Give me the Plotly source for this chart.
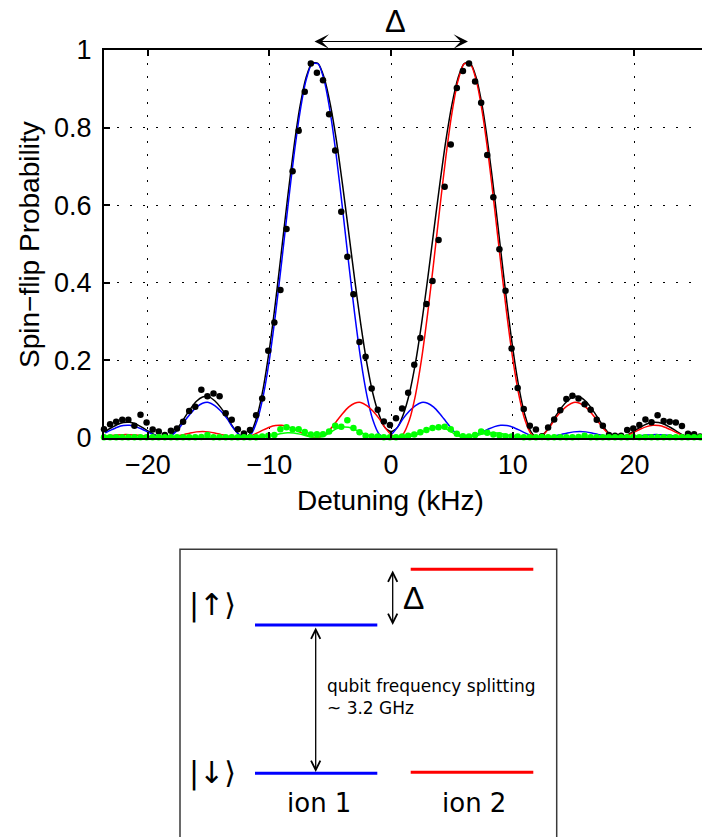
import plotly.graph_objects as go

W, H = 702, 837

# ---------------- data ----------------
dot_x = [-23.6, -23.1, -22.6, -22.1, -21.6, -21.1, -20.6, -20.1, -19.6, -19.1,
         -18.6, -18.1, -17.6, -17.1, -16.6, -16.1, -15.6, -15.1, -14.6, -14.1,
         -13.6, -13.1, -12.6, -12.1, -11.6, -11.1, -10.6, -10.1, -9.6, -9.1,
         -8.6, -8.1, -7.6, -7.1, -6.6, -6.1, -5.6, -5.1, -4.6, -4.1,
         -3.6, -3.1, -2.6, -2.1, -1.6, -1.1, -0.6, -0.1, 0.4, 0.9,
         1.4, 1.9, 2.4, 2.9, 3.4, 3.9, 4.4, 4.9, 5.4, 5.9,
         6.4, 6.9, 7.4, 7.9, 8.4, 8.9, 9.4, 9.9, 10.4, 10.9,
         11.4, 11.9, 12.4, 12.9, 13.4, 13.9, 14.4, 14.9, 15.4, 15.9,
         16.4, 16.9, 17.4, 17.9, 18.4, 18.9, 19.4, 19.9, 20.4, 20.9,
         21.4, 21.9, 22.4, 22.9, 23.4, 23.9, 24.4, 24.9, 25.4]

dot_total = [0.022, 0.035, 0.041, 0.046, 0.046, 0.031, 0.059, 0.039, 0.021, 0.016,
             0.007, 0.018, 0.024, 0.041, 0.069, 0.080, 0.124, 0.107, 0.114, 0.107,
             0.063, 0.046, 0.022, 0.011, 0.020, 0.058, 0.101, 0.224, 0.297, 0.381,
             0.538, 0.687, 0.792, 0.892, 0.965, 0.941, 0.922, 0.834, 0.741, 0.583,
             0.467, 0.370, 0.247, 0.209, 0.127, 0.072, 0.042, 0.033, 0.050, 0.075,
             0.116, 0.188, 0.257, 0.345, 0.404, 0.510, 0.647, 0.756, 0.902, 0.946,
             0.965, 0.919, 0.864, 0.729, 0.620, 0.486, 0.379, 0.230, 0.128, 0.074,
             0.031, 0.021, 0.004, 0.026, 0.047, 0.071, 0.100, 0.108, 0.101, 0.086,
             0.072, 0.046, 0.031, 0.007, 0.005, 0.005, 0.020, 0.024, 0.033, 0.047,
             0.040, 0.058, 0.043, 0.041, 0.039, 0.030, 0.010, 0.009, 0.003]

dot_both = [0.001, 0.001, 0.001, 0.001, 0.001, 0.001, 0.001, 0.001, 0.001, 0.001,
            0.001, 0.001, 0.001, 0.001, 0.001, 0.001, 0.002, 0.007, 0.001, 0.001,
            0.001, 0.001, 0.001, 0.001, 0.001, 0.001, 0.003, 0.005, 0.007, 0.022,
            0.027, 0.022, 0.022, 0.015, 0.008, 0.009, 0.009, 0.016, 0.031, 0.028,
            0.045, 0.025, 0.014, 0.005, 0.003, 0.003, 0.001, 0.001, 0.001, 0.003,
            0.005, 0.008, 0.014, 0.020, 0.025, 0.027, 0.028, 0.022, 0.010, 0.004,
            0.003, 0.007, 0.016, 0.013, 0.008, 0.006, 0.004, 0.003, 0.003, 0.001,
            0.001, 0.001, 0.002, 0.001, 0.001, 0.001, 0.001, 0.001, 0.002, 0.005,
            0.001, 0.001, 0.001, 0.001, 0.001, 0.001, 0.001, 0.002, 0.001, 0.001,
            0.001, 0.001, 0.001, 0.001, 0.001, 0.001, 0.001, 0.001, 0.001]

fit_x = [-23.5, -23.0, -22.5, -22.0, -21.5, -21.0, -20.5, -20.0, -19.5, -19.0,
         -18.5, -18.0, -17.5, -17.0, -16.5, -16.0, -15.5, -15.0, -14.5, -14.0,
         -13.5, -13.0, -12.5, -12.0, -11.5, -11.0, -10.5, -10.0, -9.5, -9.0,
         -8.5, -8.0, -7.5, -7.0, -6.5, -6.0, -5.5, -5.0, -4.5, -4.0,
         -3.5, -3.0, -2.5, -2.0, -1.5, -1.0, -0.5, 0.0, 0.5, 1.0,
         1.5, 2.0, 2.5, 3.0, 3.5, 4.0, 4.5, 5.0, 5.5, 6.0,
         6.5, 7.0, 7.5, 8.0, 8.5, 9.0, 9.5, 10.0, 10.5, 11.0,
         11.5, 12.0, 12.5, 13.0, 13.5, 14.0, 14.5, 15.0, 15.5, 16.0,
         16.5, 17.0, 17.5, 18.0, 18.5, 19.0, 19.5, 20.0, 20.5, 21.0,
         21.5, 22.0, 22.5, 23.0, 23.5, 24.0, 24.5, 25.0, 25.5]

fit_ion1 = [0.0123, 0.0201, 0.0270, 0.0312, 0.0318, 0.0286, 0.0223, 0.0146, 0.0072, 0.0019,
            0.0005, 0.007, 0.022, 0.042, 0.062, 0.079, 0.089, 0.091, 0.083, 0.069,
            0.050, 0.026, 0.008, 0.0001, 0.0098, 0.0454, 0.110, 0.2025, 0.320, 0.453,
            0.592, 0.725, 0.838, 0.921, 0.9645, 0.9645, 0.921, 0.838, 0.725, 0.592,
            0.453, 0.320, 0.2025, 0.110, 0.0454, 0.0098, 0.0001, 0.008, 0.026, 0.050,
            0.069, 0.083, 0.091, 0.089, 0.079, 0.062, 0.042, 0.022, 0.007, 0.0005,
            0.0019, 0.0072, 0.0146, 0.0223, 0.0286, 0.0318, 0.0312, 0.0270, 0.0201, 0.0123,
            0.0054, 0.0009, 0.0003, 0.0016, 0.0047, 0.0086, 0.0123, 0.0150, 0.0160, 0.0150,
            0.0123, 0.0086, 0.0047, 0.0016, 0.0001, 0.0002, 0.0014, 0.0031, 0.0051, 0.0068,
            0.0078, 0.0079, 0.0071, 0.0055, 0.0035, 0.0017, 0.0004, 0.0, 0.0005]

fit_ion2 = [0.0035, 0.0055, 0.0071, 0.0079, 0.0078, 0.0068, 0.0051, 0.0031, 0.0014, 0.0002,
            0.0001, 0.0016, 0.0047, 0.0086, 0.0123, 0.0150, 0.0160, 0.0150, 0.0123, 0.0086,
            0.0047, 0.0016, 0.0003, 0.0009, 0.0054, 0.0123, 0.0201, 0.0270, 0.0312, 0.0318,
            0.0286, 0.0223, 0.0146, 0.0072, 0.0019, 0.0005, 0.007, 0.022, 0.042, 0.062,
            0.079, 0.089, 0.091, 0.083, 0.069, 0.050, 0.026, 0.008, 0.0001, 0.0098,
            0.0454, 0.110, 0.2025, 0.320, 0.453, 0.592, 0.725, 0.838, 0.921, 0.9645,
            0.9645, 0.921, 0.838, 0.725, 0.592, 0.453, 0.320, 0.2025, 0.110, 0.0454,
            0.0098, 0.0001, 0.008, 0.026, 0.050, 0.069, 0.083, 0.091, 0.089, 0.079,
            0.062, 0.042, 0.022, 0.007, 0.0005, 0.0019, 0.0072, 0.0146, 0.0223, 0.0286,
            0.0318, 0.0312, 0.0270, 0.0201, 0.0123, 0.0054, 0.0009, 0.0003, 0.0016]

fit_total = [0.0158, 0.0256, 0.0341, 0.0391, 0.0396, 0.0354, 0.0274, 0.0177, 0.0086, 0.0021,
             0.0006, 0.0086, 0.0267, 0.0506, 0.0743, 0.094, 0.105, 0.106, 0.0953, 0.0776,
             0.0547, 0.0276, 0.0083, 0.001, 0.0152, 0.0577, 0.130, 0.2295, 0.351, 0.485,
             0.621, 0.747, 0.853, 0.928, 0.966, 0.965, 0.928, 0.860, 0.767, 0.654,
             0.532, 0.409, 0.2935, 0.193, 0.114, 0.060, 0.026, 0.016, 0.026, 0.060,
             0.114, 0.193, 0.2935, 0.409, 0.532, 0.654, 0.767, 0.860, 0.928, 0.965,
             0.966, 0.928, 0.853, 0.747, 0.621, 0.485, 0.351, 0.2295, 0.130, 0.0577,
             0.0152, 0.001, 0.0083, 0.0276, 0.0547, 0.0776, 0.0953, 0.106, 0.105, 0.094,
             0.0743, 0.0506, 0.0267, 0.0086, 0.0006, 0.0021, 0.0086, 0.0177, 0.0274, 0.0354,
             0.0396, 0.0391, 0.0341, 0.0256, 0.0158, 0.0071, 0.0013, 0.0003, 0.0021]

fit_both = [0.0, 0.0, 0.0, 0.0, 0.0, 0.0, 0.0, 0.0, 0.0, 0.0,
            0.0, 0.0, 0.0001, 0.0003, 0.0006, 0.0009, 0.0011, 0.0010, 0.0008, 0.0004,
            0.0002, 0.0, 0.0, 0.0, 0.0, 0.0004, 0.0017, 0.0041, 0.0075, 0.0108,
            0.0127, 0.0121, 0.0092, 0.0050, 0.0014, 0.0004, 0.0048, 0.0138, 0.0228, 0.0275,
            0.0268, 0.0214, 0.0138, 0.0069, 0.0024, 0.0004, 0.0, 0.0, 0.0, 0.0004,
            0.0024, 0.0069, 0.0138, 0.0214, 0.0268, 0.0275, 0.0228, 0.0138, 0.0048, 0.0004,
            0.0014, 0.0050, 0.0092, 0.0121, 0.0127, 0.0108, 0.0075, 0.0041, 0.0017, 0.0004,
            0.0, 0.0, 0.0, 0.0, 0.0002, 0.0004, 0.0008, 0.0010, 0.0011, 0.0009,
            0.0006, 0.0003, 0.0001, 0.0, 0.0, 0.0, 0.0, 0.0, 0.0, 0.0,
            0.0, 0.0, 0.0, 0.0, 0.0, 0.0, 0.0, 0.0, 0.0]

x_tick_vals = [-20, -10, 0, 10, 20]
x_tick_text = ["\u221220", "\u221210", "0", "10", "20"]
y_tick_vals = [0, 0.2, 0.4, 0.6, 0.8, 1]
y_tick_text = ["0", "0.2", "0.4", "0.6", "0.8", "1"]


# ---------------- helpers (pixel -> paper) ----------------
def fx(p):
    return p / W


def fy(p):
    return 1 - p / H


SANS = "Liberation Sans, Arial, sans-serif"
TICKFONT = dict(family=SANS, size=27, color="black")
DIAFONT = "DejaVu Sans, Verdana, sans-serif"

fig = go.Figure()
spl = dict(shape="spline", smoothing=0.7)
fig.add_trace(go.Scatter(x=fit_x, y=fit_total, mode="lines",
                         line=dict(color="black", width=1.5, **spl)))
fig.add_trace(go.Scatter(x=fit_x, y=fit_ion1, mode="lines",
                         line=dict(color="#0000ff", width=1.5, **spl)))
fig.add_trace(go.Scatter(x=fit_x, y=fit_ion2, mode="lines",
                         line=dict(color="#ff0000", width=1.5, **spl)))
fig.add_trace(go.Scatter(x=fit_x, y=fit_both, mode="lines",
                         line=dict(color="#00ff00", width=1.5, **spl)))
fig.add_trace(go.Scatter(x=dot_x, y=dot_total, mode="markers", cliponaxis=False,
                         marker=dict(color="black", size=6.5, line=dict(width=0))))
fig.add_trace(go.Scatter(x=dot_x, y=dot_both, mode="markers", cliponaxis=False,
                         marker=dict(color="#00ff00", size=6.5, line=dict(width=0))))

axis_common = dict(showgrid=True, gridcolor="black", gridwidth=1.2, griddash="2px,11px",
                   zeroline=False, showline=True, linecolor="black", linewidth=2,
                   ticks="inside", ticklen=6, tickwidth=1.5, tickcolor="black",
                   tickfont=TICKFONT, automargin=False)

fig.update_layout(
    width=W, height=H, template="none",
    margin=dict(l=0, r=0, t=0, b=0, pad=0),
    paper_bgcolor="white", plot_bgcolor="rgba(0,0,0,0)",
    showlegend=False,
    xaxis=dict(domain=[fx(104), 1], range=[-23.6, 25.55], tickmode="array",
               tickvals=x_tick_vals, ticktext=x_tick_text, mirror="ticks",
               ticklabelstandoff=2, **axis_common),
    yaxis=dict(domain=[fy(437.7), fy(50)], range=[0, 1], tickmode="array",
               tickvals=y_tick_vals, ticktext=y_tick_text, mirror=False,
               ticklabelstandoff=5, **axis_common),
)

ann = []
# axis titles
ann.append(dict(text="Detuning (kHz)", x=fx(390), y=fy(500), xref="paper", yref="paper",
                showarrow=False, xanchor="center", yanchor="middle",
                font=dict(family=SANS, size=28, color="black")))
ann.append(dict(text="Spin\u2212flip Probability", x=fx(29), y=fy(245), xref="paper", yref="paper",
                showarrow=False, xanchor="center", yanchor="middle", textangle=-90,
                font=dict(family=SANS, size=28, color="black")))
# Delta above plot with double arrow
ann.append(dict(text="\u0394", x=fx(395.5), y=fy(22), xref="paper", yref="paper",
                showarrow=False, xanchor="center", yanchor="middle",
                font=dict(family=SANS, size=31, color="black")))
ann.append(dict(text="", x=fx(468), y=fy(41.5), xref="paper", yref="paper",
                showarrow=True, ax=-155, ay=0, axref="pixel", ayref="pixel",
                arrowside="end+start", arrowhead=3, startarrowhead=3,
                arrowsize=2.2, startarrowsize=2.2, arrowwidth=1.1, arrowcolor="black",
                standoff=0, startstandoff=0))

# ---------------- energy-level diagram ----------------
shapes = []
shapes.append(dict(type="rect", xref="paper", yref="paper",
                   x0=fx(180), x1=fx(556.7), y0=fy(549.3), y1=fy(850),
                   line=dict(color="#3a3a3a", width=1.5), fillcolor="rgba(0,0,0,0)"))
levels = [(255, 377.3, 625, "#0000ff"), (255, 377.3, 773.3, "#0000ff"),
          (410.7, 533.3, 569.3, "#ff0000"), (410.7, 533.3, 772.3, "#ff0000")]
for x0, x1, yy, c in levels:
    shapes.append(dict(type="line", xref="paper", yref="paper",
                       x0=fx(x0), x1=fx(x1), y0=fy(yy), y1=fy(yy),
                       line=dict(color=c, width=3)))

# splitting arrow (ion 1)
ann.append(dict(text="", x=fx(315.7), y=fy(772), xref="paper", yref="paper",
                showarrow=True, ax=0, ay=-146, axref="pixel", ayref="pixel",
                arrowside="end+start", arrowhead=5, startarrowhead=5,
                arrowsize=1.4, startarrowsize=1.4, arrowwidth=1.3, arrowcolor="black"))
# Delta arrow
ann.append(dict(text="", x=fx(392.7), y=fy(625), xref="paper", yref="paper",
                showarrow=True, ax=0, ay=-56, axref="pixel", ayref="pixel",
                arrowside="end+start", arrowhead=5, startarrowhead=5,
                arrowsize=1.4, startarrowsize=1.4, arrowwidth=1.3, arrowcolor="black"))
ann.append(dict(text="\u0394", x=fx(413), y=fy(598), xref="paper", yref="paper",
                showarrow=False, xanchor="center", yanchor="middle",
                font=dict(family=SANS, size=32, color="black")))
# kets
ann.append(dict(text="|\u2191\u27e9", x=fx(212.5), y=fy(605), xref="paper", yref="paper",
                showarrow=False, xanchor="center", yanchor="middle",
                font=dict(family=DIAFONT, size=30, color="black")))
ann.append(dict(text="|\u2193\u27e9", x=fx(212.5), y=fy(773), xref="paper", yref="paper",
                showarrow=False, xanchor="center", yanchor="middle",
                font=dict(family=DIAFONT, size=30, color="black")))
# splitting text
ann.append(dict(text="qubit frequency splitting<br>~ 3.2 GHz", x=fx(325), y=fy(697),
                xref="paper", yref="paper", showarrow=False, xanchor="left", yanchor="middle",
                align="left", font=dict(family=DIAFONT, size=17, color="black")))
# ion labels
ann.append(dict(text="ion 1", x=fx(319), y=fy(803), xref="paper", yref="paper",
                showarrow=False, xanchor="center", yanchor="middle",
                font=dict(family=DIAFONT, size=26, color="black")))
ann.append(dict(text="ion 2", x=fx(474), y=fy(803), xref="paper", yref="paper",
                showarrow=False, xanchor="center", yanchor="middle",
                font=dict(family=DIAFONT, size=26, color="black")))

fig.update_layout(annotations=ann, shapes=shapes)
fig.write_html("out.html")
